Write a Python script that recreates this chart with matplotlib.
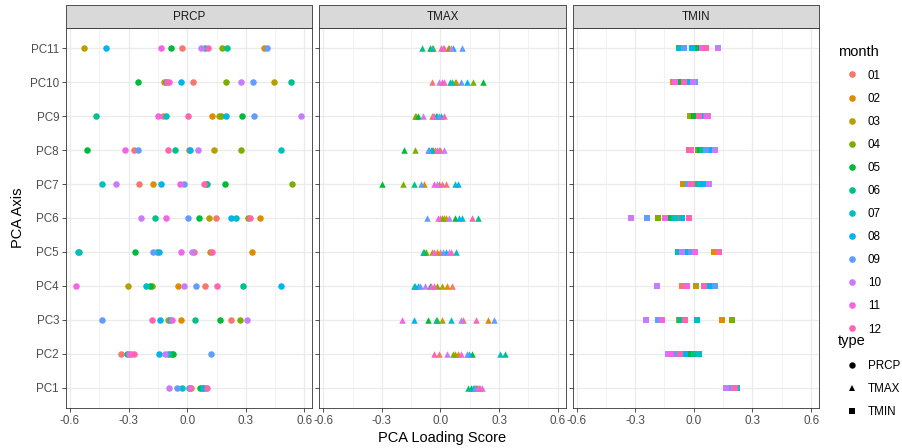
import matplotlib
matplotlib.use("Agg")
import matplotlib.pyplot as plt
from matplotlib.lines import Line2D
from matplotlib.patches import Rectangle
from matplotlib.ticker import MultipleLocator

plt.rcParams['font.family'] = ['Liberation Sans', 'DejaVu Sans']

months = ["01", "02", "03", "04", "05", "06", "07", "08", "09", "10", "11", "12"]
month_colors = ["#F8766D", "#DE8C00", "#B79F00", "#7CAE00", "#00BA38", "#00C08B",
                "#00BFC4", "#00B4F0", "#619CFF", "#C77CFF", "#F564E3", "#FF64B0"]
pcs = ["PC1", "PC2", "PC3", "PC4", "PC5", "PC6", "PC7", "PC8", "PC9", "PC10", "PC11"]
types = ["PRCP", "TMAX", "TMIN"]
type_markers = ["o", "^", "s"]
x_ticks = [-0.6, -0.3, 0.0, 0.3, 0.6]
x_tick_labels = ["-0.6", "-0.3", "0.0", "0.3", "0.6"]

# rows: PC1..PC11, columns: months 01..12
prcp_loadings = [
    [0.095, 0.020, 0.088, 0.075, 0.066, 0.009, -0.029, 0.082, -0.051, -0.095, 0.015, 0.102],
    [-0.341, -0.286, -0.080, -0.087, -0.075, -0.310, -0.099, -0.143, 0.124, -0.112, -0.300, -0.273],
    [0.223, -0.031, -0.099, 0.269, 0.169, 0.039, -0.087, -0.141, -0.434, 0.305, -0.078, -0.182],
    [0.090, -0.046, -0.305, -0.179, -0.190, 0.283, -0.211, 0.479, 0.044, -0.015, -0.569, 0.152],
    [0.036, 0.329, 0.116, -0.153, -0.266, -0.552, -0.559, -0.143, -0.174, 0.027, -0.032, 0.129],
    [0.147, 0.375, 0.114, 0.312, 0.060, -0.167, 0.249, 0.223, 0.002, -0.235, -0.107, 0.319],
    [-0.247, -0.176, 0.094, 0.537, 0.193, 0.102, -0.436, -0.135, -0.017, -0.366, -0.036, 0.085],
    [-0.274, 0.009, 0.135, 0.273, -0.514, -0.063, 0.480, 0.015, -0.250, 0.053, -0.319, -0.097],
    [-0.123, 0.129, 0.165, 0.175, 0.278, -0.465, -0.106, 0.198, 0.342, 0.584, -0.148, 0.002],
    [0.032, -0.118, 0.445, 0.199, -0.250, 0.533, -0.109, -0.031, 0.339, 0.274, -0.092, -0.102],
    [-0.027, 0.395, -0.530, 0.177, -0.084, 0.203, 0.089, -0.415, 0.409, 0.072, -0.133, 0.104],
]
tmax_loadings = [
    [0.195, 0.185, 0.176, 0.182, 0.155, 0.141, 0.167, 0.172, 0.175, 0.211, 0.194, 0.203],
    [-0.009, 0.087, 0.075, 0.066, 0.160, 0.330, 0.305, 0.147, 0.135, 0.032, 0.107, -0.032],
    [0.114, 0.245, 0.010, -0.019, -0.063, -0.024, 0.055, -0.133, 0.276, 0.104, -0.198, 0.182],
    [0.060, 0.034, 0.007, -0.017, -0.056, -0.135, -0.128, -0.116, -0.106, -0.078, -0.048, -0.031],
    [-0.005, -0.019, -0.041, -0.073, -0.082, -0.087, 0.080, 0.027, 0.015, 0.041, -0.032, 0.053],
    [-0.003, 0.027, 0.017, 0.007, 0.072, 0.191, 0.109, 0.095, -0.068, 0.041, -0.014, 0.160],
    [0.027, -0.082, -0.007, -0.191, -0.298, -0.136, 0.072, 0.089, -0.099, -0.019, -0.031, 0.007],
    [-0.027, -0.036, 0.000, -0.129, -0.189, -0.044, -0.051, -0.058, -0.065, 0.017, -0.019, -0.010],
    [-0.031, -0.046, -0.123, -0.128, -0.116, -0.024, -0.017, 0.002, -0.009, -0.092, -0.037, 0.020],
    [-0.044, 0.077, 0.072, 0.167, 0.215, 0.048, 0.060, 0.138, 0.107, -0.007, 0.017, 0.009],
    [0.020, 0.037, -0.039, 0.044, -0.053, -0.097, -0.046, 0.065, 0.109, 0.053, 0.014, 0.005],
]
tmin_loadings = [
    [0.200, 0.200, 0.203, 0.205, 0.207, 0.210, 0.222, 0.195, 0.189, 0.163, 0.205, 0.212],
    [-0.075, -0.060, -0.035, -0.005, -0.017, 0.000, 0.026, -0.046, -0.094, -0.132, -0.118, -0.069],
    [-0.045, 0.146, -0.077, 0.194, -0.065, -0.069, 0.014, -0.170, -0.184, -0.242, -0.161, -0.043],
    [-0.060, 0.012, 0.009, 0.094, 0.060, 0.069, 0.065, 0.081, 0.111, -0.187, -0.033, 0.050],
    [0.108, 0.105, -0.005, -0.030, -0.033, -0.081, -0.075, -0.047, -0.015, -0.060, 0.005, 0.129],
    [-0.124, -0.142, -0.070, -0.184, -0.115, -0.100, -0.094, -0.060, -0.238, -0.319, -0.149, -0.026],
    [-0.045, -0.053, -0.040, 0.000, 0.010, 0.019, 0.031, 0.048, -0.029, 0.077, -0.015, -0.009],
    [-0.019, 0.021, 0.020, 0.024, 0.030, 0.040, 0.085, 0.089, 0.060, 0.111, -0.012, -0.026],
    [0.010, 0.008, -0.019, -0.009, 0.000, 0.038, 0.050, 0.045, 0.060, 0.075, 0.068, 0.026],
    [-0.108, -0.103, -0.075, -0.072, -0.065, -0.036, -0.024, -0.021, 0.007, -0.005, -0.098, -0.048],
    [0.040, 0.030, 0.000, 0.014, 0.021, -0.077, -0.069, -0.009, -0.048, 0.122, 0.043, 0.060],
]
all_loadings = [prcp_loadings, tmax_loadings, tmin_loadings]

W, H = 903, 448
fig = plt.figure(figsize=(W / 100, H / 100), dpi=100)

def fx(px):
    return px / W

def fy(py):
    return 1 - py / H

panel_left0 = 66.0
panel_w = 246.3
panel_step = 253.3
panel_top = 28.0
panel_bot = 408.0
strip_top = 5.0

border_col = "#333333"
grid_col = "#EBEBEB"
text_col = "#4D4D4D"

for k, (tname, marker, data) in enumerate(zip(types, type_markers, all_loadings)):
    left = panel_left0 + k * panel_step
    ax = fig.add_axes([fx(left), fy(panel_bot), panel_w / W, (panel_bot - panel_top) / H])
    ax.set_facecolor("white")
    for i, pc in enumerate(pcs):
        for j, m in enumerate(months):
            ax.scatter(data[i][j], i + 1, marker=marker, s=22, color=month_colors[j],
                       linewidths=0, zorder=3)
    ax.set_xlim(-0.62, 0.64)
    ax.set_ylim(0.4, 11.6)
    ax.set_xticks(x_ticks)
    ax.set_xticklabels(x_tick_labels)
    ax.xaxis.set_minor_locator(MultipleLocator(0.15))
    ax.set_yticks(range(1, len(pcs) + 1))
    if k == 0:
        ax.set_yticklabels(pcs)
    else:
        ax.set_yticklabels([])
        ax.tick_params(axis="y", length=0)
    ax.grid(True, which="major", color=grid_col, linewidth=0.9, zorder=0)
    ax.grid(True, which="minor", axis="x", color=grid_col, linewidth=0.45, zorder=0)
    ax.set_axisbelow(True)
    ax.tick_params(axis="both", which="major", labelsize=8.4, labelcolor=text_col,
                   color=border_col, width=0.6, length=3, pad=2)
    ax.tick_params(axis="x", which="minor", length=0)
    for sp in ax.spines.values():
        sp.set_color(border_col)
        sp.set_linewidth(0.6)
    strip = Rectangle((fx(left), fy(panel_top)), panel_w / W, (panel_top - strip_top) / H,
                      transform=fig.transFigure, facecolor="#D9D9D9", edgecolor=border_col,
                      linewidth=0.6, zorder=1)
    fig.patches.append(strip)
    fig.text(fx(left + panel_w / 2), fy((panel_top + strip_top) / 2), tname,
             ha="center", va="center", fontsize=8.4, color="#1A1A1A")

fig.text(fx((panel_left0 + 2 * panel_step + panel_w + panel_left0) / 2), fy(438),
         "PCA Loading Score", ha="center", va="center", fontsize=10.5, color="black")
fig.text(fx(18), fy((panel_top + panel_bot) / 2), "PCA Axis", ha="center", va="center",
         rotation=90, fontsize=10.5, color="black")

month_handles = [Line2D([], [], marker="o", linestyle="none", markersize=4.8,
                        markerfacecolor=c, markeredgewidth=0) for c in month_colors]
leg1 = fig.legend(month_handles, months, title="month", loc="upper left",
                  bbox_to_anchor=(fx(838), fy(44.5)), frameon=False, fontsize=8.4,
                  title_fontsize=10.5, borderpad=0, borderaxespad=0, handlelength=2.4,
                  handletextpad=0.15, labelspacing=0.95, alignment="left")

type_handles = [Line2D([], [], marker=mk, linestyle="none", markersize=4.6,
                       markerfacecolor="black", markeredgewidth=0) for mk in type_markers]
leg2 = fig.legend(type_handles, types, title="type", loc="upper left",
                  bbox_to_anchor=(fx(838), fy(334.5)), frameon=False, fontsize=8.4,
                  title_fontsize=10.5, borderpad=0, borderaxespad=0, handlelength=2.4,
                  handletextpad=0.15, labelspacing=0.95, alignment="left")

fig.savefig("out.png", dpi=100)
